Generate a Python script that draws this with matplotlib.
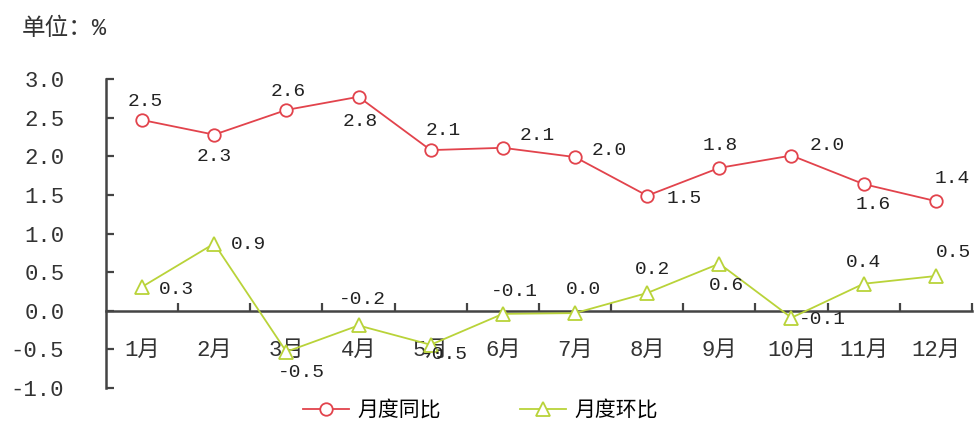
import matplotlib.pyplot as plt

plt.rcParams['font.family'] = ['Liberation Mono', 'Noto Sans CJK SC', 'DejaVu Sans']

MONTHS = ["1月", "2月", "3月", "4月", "5月", "6月", "7月", "8月", "9月", "10月", "11月", "12月"]
YOY = [2.47, 2.28, 2.60, 2.77, 2.08, 2.11, 1.99, 1.49, 1.85, 2.01, 1.64, 1.42]
YOY_LABELS = ["2.5", "2.3", "2.6", "2.8", "2.1", "2.1", "2.0", "1.5", "1.8", "2.0", "1.6", "1.4"]
MOM = [0.31, 0.87, -0.53, -0.19, -0.44, -0.04, -0.03, 0.23, 0.61, -0.09, 0.35, 0.45]
MOM_LABELS = ["0.3", "0.9", "-0.5", "-0.2", "-0.5", "-0.1", "0.0", "0.2", "0.6", "-0.1", "0.4", "0.5"]

# label offsets in points (dx, dy)
YOY_OFF = [(2, 13), (0, -16), (1, 13), (1, -18), (9, 14), (25, 9), (25, 5), (27, -2),
           (1, 16), (26, 7), (7, -15), (12, 16)]
MOM_OFF = [(25, -2), (25, -1), (11, -15), (3, 19), (10, -7), (8, 16), (6, 17), (4, 17),
           (5, -16), (22, -1), (0, 15), (13, 17)]

RED = "#e2434c"
GREEN = "#b9d339"
AX = "#444444"

fig = plt.figure(figsize=(9.74, 4.25), dpi=100)
ax = fig.add_axes([0.1088, 0.087, 0.889, 0.727])

x = list(range(len(MONTHS)))
ax.plot(x, YOY, color=RED, lw=1.3, marker="o", ms=9, mfc="white", mec=RED, mew=1.3,
        label="月度同比", zorder=3)
ax.plot(x, MOM, color=GREEN, lw=1.3, marker="^", ms=10, mfc="white", mec=GREEN, mew=1.3,
        label="月度环比", zorder=3)

for i in x:
    ax.annotate(YOY_LABELS[i], (i, YOY[i]), xytext=YOY_OFF[i], textcoords="offset points",
                ha="center", va="center", fontsize=14, color="#222222")
    ax.annotate(MOM_LABELS[i], (i, MOM[i]), xytext=MOM_OFF[i], textcoords="offset points",
                ha="center", va="center", fontsize=14, color="#222222")

ax.set_xlim(-0.5, 11.5)
ax.set_ylim(-1.0, 3.0)
ax.set_yticks([-1.0, -0.5, 0.0, 0.5, 1.0, 1.5, 2.0, 2.5, 3.0])
ax.set_yticklabels([f"{v:.1f}" for v in ax.get_yticks()])
ax.tick_params(axis="y", direction="in", length=6, width=1.6, color=AX, pad=30,
               labelsize=16, labelcolor="#333333")

ax.spines["top"].set_visible(False)
ax.spines["right"].set_visible(False)
ax.spines["left"].set_color(AX)
ax.spines["left"].set_linewidth(1.8)
ax.spines["bottom"].set_position(("data", 0))
ax.spines["bottom"].set_color(AX)
ax.spines["bottom"].set_linewidth(1.8)

ax.set_xticks([i + 0.5 for i in x])
ax.set_xticklabels([])
ax.tick_params(axis="x", which="major", direction="in", length=6, width=1.6, color=AX)
ax.set_xticks(x, minor=True)
ax.set_xticklabels(MONTHS, minor=True)
ax.tick_params(axis="x", which="minor", length=0, pad=21, labelsize=16, labelcolor="#333333")

fig.text(0.022, 0.932, "单位：%", fontsize=17, color="#333333", ha="left", va="center")

fig.legend(loc="center", bbox_to_anchor=(0.493, 0.035), ncol=2, frameon=False,
           fontsize=15, handlelength=2.2, columnspacing=3.8, handletextpad=0.4)

fig.savefig("out.png", dpi=100)
